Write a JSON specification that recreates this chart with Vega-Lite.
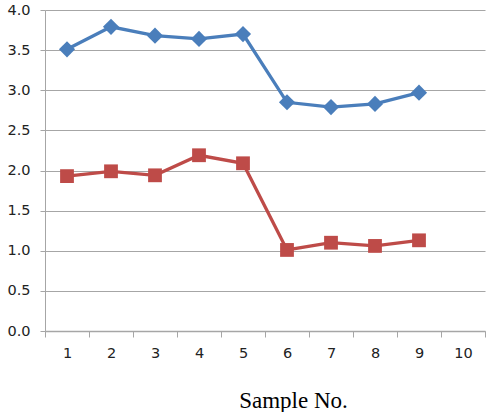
{
  "$schema": "https://vega.github.io/schema/vega-lite/v6.json",
  "width": 440,
  "height": 321,
  "autosize": {"type": "none"},
  "padding": {"left": 45, "top": 10, "right": 5, "bottom": 81},
  "background": "white",
  "config": {"view": {"stroke": null}},
  "data": {
    "values": [
      {"sample": "1", "series": "A", "value": 3.51},
      {"sample": "2", "series": "A", "value": 3.79},
      {"sample": "3", "series": "A", "value": 3.68},
      {"sample": "4", "series": "A", "value": 3.64},
      {"sample": "5", "series": "A", "value": 3.70},
      {"sample": "6", "series": "A", "value": 2.85},
      {"sample": "7", "series": "A", "value": 2.79},
      {"sample": "8", "series": "A", "value": 2.83},
      {"sample": "9", "series": "A", "value": 2.97},
      {"sample": "1", "series": "B", "value": 1.93},
      {"sample": "2", "series": "B", "value": 1.99},
      {"sample": "3", "series": "B", "value": 1.94},
      {"sample": "4", "series": "B", "value": 2.19},
      {"sample": "5", "series": "B", "value": 2.09},
      {"sample": "6", "series": "B", "value": 1.01},
      {"sample": "7", "series": "B", "value": 1.10},
      {"sample": "8", "series": "B", "value": 1.06},
      {"sample": "9", "series": "B", "value": 1.13}
    ]
  },
  "encoding": {
    "x": {
      "field": "sample",
      "type": "ordinal",
      "sort": null,
      "scale": {"domain": ["1","2","3","4","5","6","7","8","9","10"], "paddingInner": 0, "paddingOuter": 0},
      "axis": {
        "title": "Sample No.",
        "titleFont": "Liberation Serif",
        "titleFontSize": 23,
        "titleFontWeight": "normal",
        "titleColor": "#000000",
        "titleX": 248,
        "titleY": 76,
        "titleAlign": "center",
        "titleBaseline": "alphabetic",
        "labelAngle": 0,
        "labelFont": "DejaVu Sans",
        "labelFontSize": 14.5,
        "labelColor": "#222222",
        "labelPadding": 9,
        "tickBand": "extent",
        "tickColor": "#a6a6a6",
        "tickSize": 6,
        "domainColor": "#a6a6a6",
        "domainWidth": 1.5,
        "grid": false
      }
    },
    "y": {
      "field": "value",
      "type": "quantitative",
      "scale": {"domain": [0, 4], "nice": false, "zero": true},
      "axis": {
        "title": null,
        "values": [0, 0.5, 1, 1.5, 2, 2.5, 3, 3.5, 4],
        "format": ".1f",
        "labelFont": "DejaVu Sans",
        "labelFontSize": 14.5,
        "labelColor": "#222222",
        "labelPadding": 10,
        "tickColor": "#a6a6a6",
        "tickSize": 5,
        "domainColor": "#a6a6a6",
        "gridColor": "#a6a6a6",
        "gridWidth": 1.2,
        "grid": true
      }
    },
    "color": {
      "field": "series",
      "type": "nominal",
      "scale": {"domain": ["A", "B"], "range": ["#4a7ebb", "#be4b48"]},
      "legend": null
    }
  },
  "layer": [
    {"mark": {"type": "line", "strokeWidth": 3.3}},
    {
      "mark": {"type": "point", "filled": true, "opacity": 1},
      "encoding": {
        "shape": {"field": "series", "type": "nominal", "scale": {"domain": ["A", "B"], "range": ["diamond", "square"]}, "legend": null},
        "size": {"field": "series", "type": "nominal", "scale": {"domain": ["A", "B"], "range": [260, 190]}, "legend": null}
      }
    }
  ]
}
